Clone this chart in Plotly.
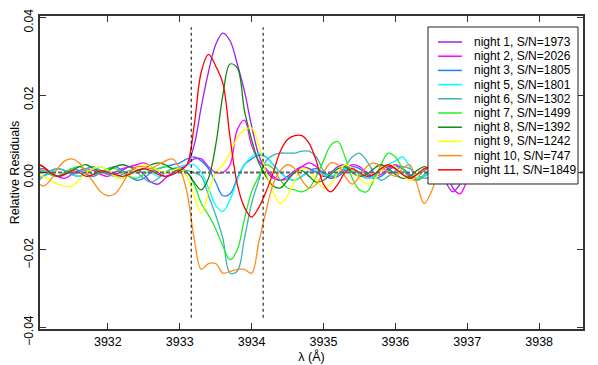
"""
Relative residuals around the Ca II K line, one curve per night
"""

import numpy as np
import plotly.graph_objects as go

# wavelength grid (Angstrom) the residuals were read on
wavelength = np.round(np.arange(3931.0, 3937.21, 0.1), 1)

names = ['night 1, S/N=1973', 'night 2, S/N=2026', 'night 3, S/N=1805',
         'night 5, S/N=1801', 'night 6, S/N=1302', 'night 7, S/N=1499',
         'night 8, S/N=1392', 'night 9, S/N=1242', 'night 10, S/N=747',
         'night 11, S/N=1849']

colors = ['#A020F0', '#FF00FF', '#1E7FFF', '#00FFFF', '#3CB3B3',
          '#22EE22', '#118811', '#FFFF00', '#FF8C1A', '#FF0000']

# residuals in units of 1e-3
night1 = [-1.5, -1, 0, 1, 0.5, -0.5, -1, 0, 1, 0.5,
          -0.5, -0.5, 0.5, 1.5, 1, -0.5, -2.5, -3, -1.5, 0,
          1, 2, 7, 17, 26, 33, 36, 34, 28, 21,
          12, 4.5, 0.5, -1.5, -2, -1, 0.5, 1.5, 1, 0,
          -1, 0, 1.5, 2, 1, -0.5, -1.5, -1, 0.5, 1.5,
          1, -0.5, -1.5, -1, 0.5, 1.5, 0.5, -2.5, -5, -3,
          0, 1, 0.5]
night2 = [0.5, 1, 0, -1, -1.5, -0.5, 0.5, 1, 0.5, -0.5,
          -1, 0, 1, 1.5, 2, 2.5, 1.5, 0, -1, -0.5,
          0.5, 2, 3.5, 3.5, 1.5, 0, 0, 2, 11, 13.5,
          7, 3, 1, -1, -2, -1.5, 0, 1.5, 2.5, 1.5,
          -0.5, -1.5, -0.5, 1, 2, 1.5, 0, -1, -0.5, 1,
          2, 1, -1, -2, -1, 0.5, 1.5, 0.5, -4, -5.5,
          -2, 1, 0.5]
night3 = [0, 0.5, -0.5, -1, 0, 1, 0.5, -0.5, -1, 0,
          1, 1.5, 0.5, -1, -2, -1.5, 0, 1, 1.5, 2,
          2.5, 3.5, 4, 3, 1, -2.5, -6, -5.5, -1.5, 2,
          3.5, 4.5, 4, 2, 0, -1.5, -2, -1, 0.5, 1,
          0, -1.5, -1, 0.5, 1.5, 1, -0.5, -1.5, -1, 0.5,
          1.5, 1, -0.5, -1.5, -1, 0.5, 1, 0, -1, -0.5,
          0.5, 0.5, 0]
night5 = [-2, -1, 0, 1, 0.5, -0.5, -1, 0, 1, 1.5,
          0.5, -1, -1.5, -0.5, 0.5, 1, 0, -1, 0, 1,
          1.5, 2, 2, 0, -4, -8.5, -10, -7, -2, 2,
          4, 5, 4, 2, 0, -1.5, -2, -1, 0, 0.5,
          -0.5, -1, 0, 1, 0.5, -0.5, -1.5, -1, 0.5, 2,
          3, 4, 1.5, -1.5, -1, 0.5, -0.5, -2, -3, -1.5,
          0, 0.5, 0]
night6 = [-3, -1, 0.5, 1, 0.5, -0.5, 0, 1, 1.5, 0.5,
          -0.5, -1, -0.5, 0.5, 0, -1.5, -2.5, -1.5, 0, 1,
          1, 0.5, 0, -1, -6, -11, -17, -26, -25.5, -17,
          -8, -2, 3, 4.5, 5, 5, 5, 5.5, 5.5, 4,
          0.5, -1, -0.5, 1.5, 4, 5, 3, 0, -2, -1,
          0.5, 1.5, 1, -0.5, -1.5, -1, 0, 1, 0.5, -0.5,
          -1, 0, 0.5]
night7 = [1, 0.5, -0.5, -1, 0, 1, 1.5, 0.5, -0.5, 0,
          1, 1, 0, -1, -1.5, -0.5, 0.5, 1, 1.5, 1,
          0.5, 0, -3, -8, -11, -14.5, -19, -22.5, -20, -12,
          -5, -1, 2, 1, -2, -4, -4.5, -5, -4, -1,
          3, 7, 8, 4, -1.5, -4.5, -5, -2, 2, 5,
          4, 1, -1.5, -2, -0.5, 1, 0.5, -1, -2, -1,
          0, 0.5, 0]
night8 = [2, 1.5, 0, -1, -0.5, 0.5, 1.5, 2, 1, 0,
          0.5, 1.5, 2, 1.5, 0.5, 1, 2, 2.5, 2, 1,
          0.5, 0, -2.5, -4.5, -1.5, 7, 20, 28, 27, 16,
          8.5, 2.5, -1, -3.5, -4, -2, 0, 0.5, -1, -2.5,
          -2, -0.5, 1, 1.5, 0, -1, -0.5, 1, 2, 1,
          -0.5, -1.5, -1, 0.5, 1.5, 1, -0.5, -1, 0, 1,
          0.5, -0.5, 0]
night9 = [0, -1, -2, -3, -3.5, -3.5, -2, 0, 1, 1.5,
          0.5, -1, -1.5, -0.5, 1, 2, 1.5, 0.5, 0, 0.5,
          1, -1, -6, -10.5, -5, 0, 2, 5, 9, 11,
          11.5, 7, 0, -5, -8, -6, -2, 1, 0.5, -2,
          -4, -3, 0, 2, 1, -1.5, -3, -2, 0.5, 2,
          1.5, -0.5, -2, -1, 1, 2, 0.5, -1.5, -1, 0,
          0.5, 0, 0]
night10 = [-2, -3.5, -2, 1, 3, 3.5, 2.5, 0, -2.5, -5,
           -6, -5.5, -3, 0, 1.5, 1.5, 1, 2, 3, 3.5,
           1, -5, -17, -25, -23.5, -23.5, -26, -25.5, -25, -25,
           -26, -18, -10, -3, 0.5, 2, 1, -2, -4, -3,
           0, 2.5, 2, -1, -3, -1, 1.5, 2.5, 1.5, 0,
           -1, 1, 2, -3, -8, -5, 0, 2, 1.5, 0.5,
           1, 0, 0]
night11 = [2.5, 1.5, 0, -1, -0.5, 0.5, 0, -1, -0.5, 0.5,
           0, -0.5, -1, -0.5, 0.5, 1, 0.5, -0.5, -1, -0.5,
           0.5, 2, 12, 26, 30.5, 27.5, 23, 9, -3, -9,
           -11.5, -9, -5, 0, 5.5, 8.5, 9.5, 9.5, 7.5, 3,
           -3, -5, -3, 0, 1, 0, -1, -0.5, 1, 2,
           1, -0.5, -1.5, -0.5, 1, 1.5, 0.5, -1, -0.5, 0.5,
           0, -0.5, 0]

series = [night1, night2, night3, night5, night6,
          night7, night8, night9, night10, night11]

# integration window edges and their drawn extent
window_edges = [3933.16, 3934.16]
window_span = [-0.0375, 0.0375]
x_range = [3931.056, 3938.61]
y_range = [-0.0404, 0.0404]

FONT = 'Liberation Sans, Arial, Helvetica, sans-serif'

fig = go.Figure()

for name, col, vals in zip(names, colors, series):
    fig.add_trace(go.Scatter(
        x=wavelength, y=np.array(vals) * 1e-3,
        mode='lines', name=name,
        line=dict(color=col, width=1.3, shape='spline'),
        showlegend=False
    ))

# zero level
fig.add_trace(go.Scatter(
    x=x_range, y=[0, 0], mode='lines',
    line=dict(color='#666666', width=2, dash='4px,2px'),
    showlegend=False
))

# window edges
for xe in window_edges:
    fig.add_trace(go.Scatter(
        x=[xe, xe], y=window_span, mode='lines',
        line=dict(color='black', width=1, dash='3px,3px'),
        showlegend=False
    ))

# hand-made legend box (R style, tight spacing)
shapes = [dict(type='rect', xref='paper', yref='paper',
               x0=0.7145, x1=0.9908, y0=0.4633, y1=0.9649,
               fillcolor='white', line=dict(color='#222222', width=1),
               layer='above')]
annotations = []
for i, (name, col) in enumerate(zip(names, colors)):
    yy = 0.9169 - i * 0.04537
    shapes.append(dict(type='line', xref='paper', yref='paper',
                       x0=0.733, x1=0.777, y0=yy, y1=yy,
                       line=dict(color=col, width=1.5), layer='above'))
    annotations.append(dict(xref='paper', yref='paper', x=0.7956, y=yy,
                            text=name, showarrow=False,
                            xanchor='left', yanchor='middle',
                            font=dict(size=12, color='black', family=FONT)))

# the page body adds an 8px margin, so the figure is 8px smaller
fig.update_layout(
    width=590, height=357,
    margin=dict(l=32, r=15, t=8, b=36),
    paper_bgcolor='white', plot_bgcolor='white',
    font=dict(family=FONT, size=12.5, color='black'),
    shapes=shapes, annotations=annotations,
    showlegend=False
)

fig.update_xaxes(
    range=x_range, showgrid=False, zeroline=False,
    showline=True, linecolor='#333333', linewidth=1.5, mirror='ticks',
    ticks='inside', ticklen=6, tickcolor='#333333',
    tickvals=[3932, 3933, 3934, 3935, 3936, 3937, 3938],
    title=dict(text='λ (Å)', standoff=2, font=dict(size=12.5)),
    automargin=False
)
fig.update_yaxes(
    range=y_range, showgrid=False, zeroline=False,
    showline=True, linecolor='#333333', linewidth=1.5, mirror='ticks',
    ticks='inside', ticklen=6, tickcolor='#333333',
    tickvals=[-0.04, -0.02, 0, 0.02, 0.04], tickformat='.2f', tickangle=-90,
    ticklabeloverflow='allow', ticklabelshift=5, tickfont=dict(size=12),
    title=dict(text='Relative Residuals', standoff=7, font=dict(size=12.5)),
    automargin=False
)

fig.write_html("out.html")
